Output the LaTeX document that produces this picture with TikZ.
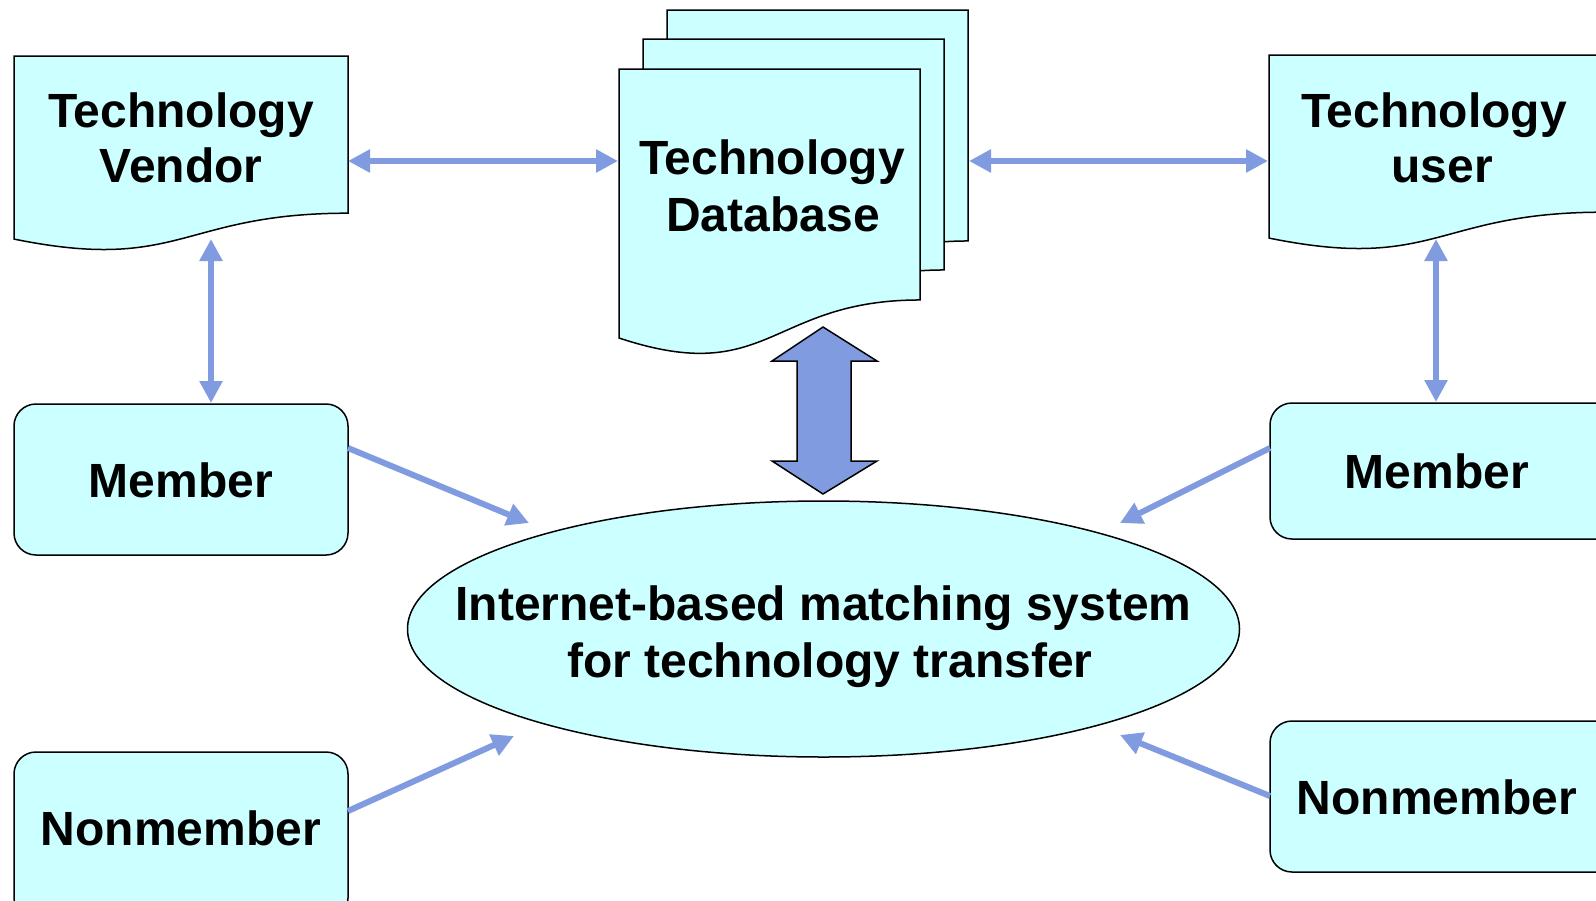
\documentclass[tikz,border=0pt]{standalone}
\usepackage{fontspec}
\setmainfont{Liberation Sans}
\usetikzlibrary{arrows.meta}
\definecolor{boxfill}{RGB}{204,255,255}
\definecolor{arrowc}{RGB}{128,155,224}
\tikzset{
  shapeline/.style={draw=black, line width=1.5pt, fill=boxfill},
  roundbox/.style={shapeline, rounded corners=22pt},
  lbl/.style={anchor=base, inner sep=0pt, font=\fontsize{48}{55}\selectfont\bfseries},
  link/.style={draw=arrowc, line width=6pt, -{Triangle[length=22pt,width=22pt]}},
  dlink/.style={draw=arrowc, line width=6pt, {Triangle[length=22pt,width=22pt]}-{Triangle[length=22pt,width=22pt]}},
  bigarrow/.style={draw=black, line width=1.5pt, fill=arrowc, line join=miter}
}
\newcommand{\docshape}[4]{% x0 y0 w h
  \path[shapeline] (#1,#2) -- ++(#3,0) -- ({#1+#3},{#2+0.802*#4})
    .. controls ({#1+#3/2},{#2+0.802*#4}) and ({#1+#3/2},{#2+1.1075*#4}) .. (#1,{#2+0.934*#4}) -- cycle;}
\begin{document}
\begin{tikzpicture}[x=1pt,y=-1pt]
\useasboundingbox (0,0) rectangle (1596,900);
\clip (0,0) rectangle (1596,900);
\fill[white] (0,0) rectangle (1596,900);

% documents
\docshape{14}{56}{334}{196}
\docshape{667}{10}{301}{288}
\docshape{643}{39}{301}{288}
\docshape{619}{69}{301}{288}
\docshape{1269}{55}{334}{196}

% rounded boxes
\path[roundbox] (14,404) rectangle (348,555);
\path[roundbox] (1270,403) rectangle (1620,539);
\path[roundbox] (14,752) rectangle (348,920);
\path[roundbox] (1270,721) rectangle (1620,872);

% ellipse
\path[shapeline] (823.5,629) ellipse [x radius=416, y radius=128];

% texts
\node[lbl] (vend1) at (181,127) {Technology};
\node[lbl] (vend2) at (181,182) {Vendor};
\node[lbl] (db1) at (772,174) {Technology};
\node[lbl] (db2) at (773,231) {Database};
\node[lbl] (user1) at (1434,127) {Technology};
\node[lbl] (user2) at (1442,182) {user};
\node[lbl] (memL) at (181,497) {Member};
\node[lbl] (memR) at (1437,488) {Member};
\node[lbl] (nonL) at (181,845) {Nonmember};
\node[lbl] (nonR) at (1437,814) {Nonmember};
\node[lbl] (sys1) at (823.5,620) {Internet-based matching system};
\node[lbl] (sys2) at (830,677) {for technology transfer};

% connector end points
\coordinate (vendR) at (348,161);
\coordinate (dbL) at (618,161);
\coordinate (dbR) at (969,161);
\coordinate (userL) at (1268,161);
\coordinate (vendB) at (211,239);
\coordinate (memLT) at (211,403);
\coordinate (userB) at (1436,239);
\coordinate (memRT) at (1436,402);
\coordinate (memLR) at (348,448);
\coordinate (ellA) at (529,523);
\coordinate (memRL) at (1270,448);
\coordinate (ellB) at (1120,523);
\coordinate (nonLR) at (348,811);
\coordinate (ellC) at (514,736);
\coordinate (nonRL) at (1270,796);
\coordinate (ellD) at (1120,735);

\draw[dlink] (vendR) -- (dbL);
\draw[dlink] (dbR) -- (userL);
\draw[dlink] (vendB) -- (memLT);
\draw[dlink] (userB) -- (memRT);
\draw[link] (memLR) -- (ellA);
\draw[link] (memRL) -- (ellB);
\draw[link] (nonLR) -- (ellC);
\draw[link] (nonRL) -- (ellD);

% big double arrow
\path[bigarrow] (823,327) -- (877,361) -- (851,361) -- (851,461) -- (877,461)
  -- (823,494) -- (772,461) -- (797,461) -- (797,361) -- (772,361) -- cycle;
\end{tikzpicture}
\end{document}
